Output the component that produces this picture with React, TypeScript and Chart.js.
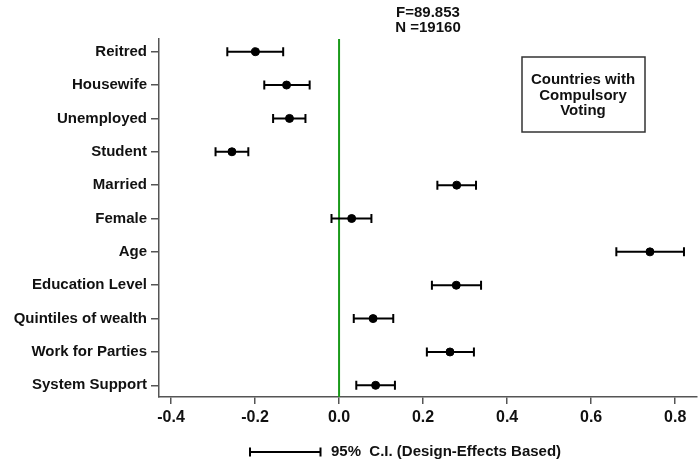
import React, { useEffect, useRef } from "react";
import { Chart, registerables } from "chart.js";

Chart.register(...registerables);

const categories = [
  "Reitred",
  "Housewife",
  "Unemployed",
  "Student",
  "Married",
  "Female",
  "Age",
  "Education Level",
  "Quintiles of wealth",
  "Work for Parties",
  "System Support",
];
const estimates = [-0.199, -0.125, -0.118, -0.255, 0.28, 0.03, 0.74, 0.279, 0.081, 0.264, 0.087];
const lowerCI = [-0.266, -0.178, -0.157, -0.294, 0.234, -0.018, 0.66, 0.221, 0.035, 0.209, 0.041];
const upperCI = [-0.133, -0.07, -0.08, -0.216, 0.326, 0.077, 0.821, 0.338, 0.129, 0.321, 0.133];
const xTicks = [-0.4, -0.2, 0.0, 0.2, 0.4, 0.6, 0.8];
const statLines = ["F=89.853", "N =19160"];
const boxLines = ["Countries with", "Compulsory", "Voting"];
const legendText = "95%  C.I. (Design-Effects Based)";

const FONT = "'Liberation Sans', Arial, sans-serif";

const errorBarPlugin = {
  id: "errorBars",
  beforeDatasetsDraw(chart: any) {
    const { ctx, chartArea, scales } = chart;
    const xs = scales.x;
    const ys = scales.y;
    ctx.save();
    // zero reference line
    const zx = xs.getPixelForValue(0);
    ctx.strokeStyle = "#1a9a1a";
    ctx.lineWidth = 2;
    ctx.beginPath();
    ctx.moveTo(zx, chartArea.top);
    ctx.lineTo(zx, chartArea.bottom);
    ctx.stroke();
    // error bars
    ctx.strokeStyle = "#000";
    ctx.lineWidth = 2;
    categories.forEach((_, i) => {
      const y = ys.getPixelForValue(i);
      const x1 = xs.getPixelForValue(lowerCI[i]);
      const x2 = xs.getPixelForValue(upperCI[i]);
      ctx.beginPath();
      ctx.moveTo(x1, y);
      ctx.lineTo(x2, y);
      ctx.moveTo(x1, y - 4.5);
      ctx.lineTo(x1, y + 4.5);
      ctx.moveTo(x2, y - 4.5);
      ctx.lineTo(x2, y + 4.5);
      ctx.stroke();
    });
    ctx.restore();
  },
  afterDraw(chart: any) {
    const { ctx } = chart;
    ctx.save();
    ctx.fillStyle = "#111";
    ctx.font = `bold 15px ${FONT}`;
    ctx.textAlign = "center";
    ctx.textBaseline = "middle";
    ctx.fillText(statLines[0], 428, 13);
    ctx.fillText(statLines[1], 428, 28);
    // box
    ctx.strokeStyle = "#333";
    ctx.lineWidth = 1.5;
    ctx.strokeRect(522, 57, 123, 75);
    ctx.fillText(boxLines[0], 583, 80);
    ctx.fillText(boxLines[1], 583, 96);
    ctx.fillText(boxLines[2], 583, 111);
    // legend
    ctx.strokeStyle = "#000";
    ctx.lineWidth = 2;
    ctx.beginPath();
    ctx.moveTo(250, 452);
    ctx.lineTo(320.5, 452);
    ctx.moveTo(250, 447.5);
    ctx.lineTo(250, 456.5);
    ctx.moveTo(320.5, 447.5);
    ctx.lineTo(320.5, 456.5);
    ctx.stroke();
    ctx.textAlign = "left";
    ctx.fillText(legendText, 331, 452);
    ctx.restore();
  },
};

export default function App() {
  const ref = useRef<HTMLCanvasElement | null>(null);
  useEffect(() => {
    if (!ref.current) return;
    const chart = new Chart(ref.current, {
      type: "scatter",
      data: {
        datasets: [
          {
            data: estimates.map((v, i) => ({ x: v, y: i })),
            backgroundColor: "#000",
            borderColor: "#000",
            pointRadius: 4,
            pointHoverRadius: 4,
          },
        ],
      },
      options: {
        animation: false,
        responsive: false,
        events: [],
        layout: { autoPadding: false, padding: { top: 39, right: 1, left: 0, bottom: 0 } },
        plugins: { legend: { display: false }, tooltip: { enabled: false } },
        scales: {
          x: {
            type: "linear",
            min: -0.4286,
            max: 0.852,
            afterBuildTicks: (s: any) => {
              s.ticks = xTicks.map((v) => ({ value: v }));
            },
            afterFit: (s: any) => {
              s.height = 65;
              s.paddingLeft = 0;
              s.paddingRight = 0;
            },
            ticks: {
              callback: (v: any) => Number(v).toFixed(1),
              color: "#111",
              font: { family: FONT, size: 16, weight: "bold" },
              padding: 4,
              maxRotation: 0,
              autoSkip: false,
            },
            grid: {
              drawOnChartArea: false,
              drawTicks: true,
              tickLength: 7,
              color: "#555",
              lineWidth: 1.5,
            },
            border: { color: "#555", width: 1.5 },
          },
          y: {
            type: "linear",
            reverse: true,
            min: -0.38,
            max: 10.35,
            afterBuildTicks: (s: any) => {
              s.ticks = categories.map((_, i) => ({ value: i }));
            },
            afterFit: (s: any) => {
              s.width = 159;
              s.paddingTop = 0;
              s.paddingBottom = 0;
            },
            ticks: {
              callback: (v: any) => categories[Number(v)] ?? "",
              color: "#111",
              font: { family: FONT, size: 15, weight: "bold" },
              padding: 4,
              autoSkip: false,
            },
            grid: {
              drawOnChartArea: false,
              drawTicks: true,
              tickLength: 8,
              color: "#555",
              lineWidth: 1.5,
            },
            border: { color: "#555", width: 1.5 },
          },
        },
      },
      plugins: [errorBarPlugin],
    });
    return () => chart.destroy();
  }, []);
  return (
    <div style={{ position: "fixed", left: 0, top: 0, width: 698, height: 462, background: "#fff" }}>
      <canvas ref={ref} width={698} height={462} style={{ width: 698, height: 462 }} />
    </div>
  );
}
